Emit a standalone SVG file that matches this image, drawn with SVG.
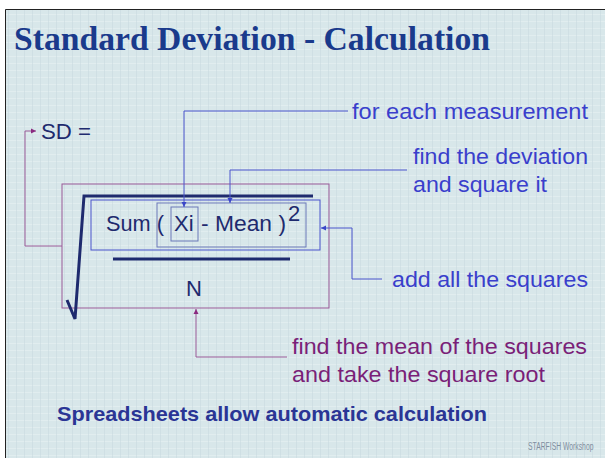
<svg xmlns="http://www.w3.org/2000/svg" width="605" height="458" viewBox="0 0 605 458">
<style>
.lbl{font-family:"Liberation Sans",Arial,sans-serif;font-size:22.5px;fill:#3a3fcc}
.lblp{font-family:"Liberation Sans",Arial,sans-serif;font-size:22.5px;fill:#7a1f78}
.frm{font-family:"Liberation Sans",Arial,sans-serif;font-size:22px;fill:#1e2a6e}
.bl{fill:none;stroke:#4a55cc;stroke-width:1}
.pu{fill:none;stroke:#9a5a98;stroke-width:1}
.gr{fill:none;stroke:#6a78b8;stroke-width:1}
</style>
<defs>
<pattern id="tex" width="8" height="7" patternUnits="userSpaceOnUse">
<rect width="8" height="7" fill="#d8e7ea"/>
<rect x="0" y="0" width="8" height="1" fill="#e6f0f2" opacity="0.7"/>
<rect x="0" y="0" width="1" height="7" fill="#c9dadf" opacity="0.6"/>
</pattern>
<marker id="ab" markerWidth="6" markerHeight="6" refX="5" refY="3" orient="auto" markerUnits="userSpaceOnUse">
<path d="M0,0.5 L5,3 L0,5.5 Z" fill="#3a46c8"/>
</marker>
<marker id="ap" markerWidth="6" markerHeight="6" refX="5" refY="3" orient="auto" markerUnits="userSpaceOnUse">
<path d="M0,0.5 L5,3 L0,5.5 Z" fill="#8a2a80"/>
</marker>
</defs>
<rect width="605" height="458" fill="#ffffff"/>
<rect x="5" y="9" width="600" height="449" fill="url(#tex)"/>
<path d="M5.5,458 V9.5 H605" fill="none" stroke="#222" stroke-width="1"/>

<g id="title">
<text x="14" y="50" font-family="'Liberation Serif','Times New Roman',serif" font-weight="bold" font-size="34" fill="#1a3a8c" textLength="476" lengthAdjust="spacingAndGlyphs">Standard Deviation - Calculation</text>
</g>

<g id="sd">
<text class="frm" x="41" y="139" textLength="50" lengthAdjust="spacingAndGlyphs">SD =</text>
</g>

<g id="formula">
<rect class="pu" x="62" y="184" width="267" height="124"/>
<rect class="bl" x="91" y="200" width="229" height="50"/>
<rect class="gr" x="157" y="203" width="149" height="44"/>
<rect class="gr" x="171" y="207" width="27" height="34"/>
<polyline points="67,300 75,319 84,196 313,196" fill="none" stroke="#1e2a6e" stroke-width="3" stroke-linejoin="miter"/>
<line x1="113" y1="259" x2="290" y2="259" stroke="#1e2a6e" stroke-width="3"/>
<text class="frm" x="106" y="231" textLength="58" lengthAdjust="spacingAndGlyphs">Sum (</text>
<text class="frm" x="174" y="231">Xi</text>
<text class="frm" x="201" y="231" textLength="85" lengthAdjust="spacingAndGlyphs">- Mean )</text>
<text class="frm" x="288" y="221" font-size="13">2</text>
<text class="frm" x="186" y="296">N</text>
</g>

<g id="label-measurement">
<text class="lbl" x="352" y="119" textLength="236" lengthAdjust="spacingAndGlyphs">for each measurement</text>
</g>
<g id="label-deviation">
<text class="lbl" x="413" y="164" textLength="175" lengthAdjust="spacingAndGlyphs">find the deviation</text>
<text class="lbl" x="413" y="192" textLength="134" lengthAdjust="spacingAndGlyphs">and square it</text>
</g>
<g id="label-add">
<text class="lbl" x="392" y="287" textLength="196" lengthAdjust="spacingAndGlyphs">add all the squares</text>
</g>
<g id="label-mean">
<text class="lblp" x="292" y="354" textLength="295" lengthAdjust="spacingAndGlyphs">find the mean of the squares</text>
<text class="lblp" x="292" y="382" textLength="253" lengthAdjust="spacingAndGlyphs">and take the square root</text>
</g>

<g id="connectors">
<path class="bl" d="M348,111 H184 V207" marker-end="url(#ab)"/>
<path class="bl" d="M407,170 H230 V203" marker-end="url(#ab)"/>
<path class="bl" d="M382,279 H352 V228 H321" marker-end="url(#ab)"/>
<path class="pu" d="M287,357 H196 V309" marker-end="url(#ap)"/>
<path class="pu" d="M62,246 H25 V131 H36" marker-end="url(#ap)"/>
</g>

<g id="footer">
<text transform="translate(528,450) scale(0.68,1)" font-family="'Liberation Sans',Arial,sans-serif" font-size="10" fill="#7f8ea0">STARFISH Workshop</text>
<text x="57" y="421" font-family="'Liberation Sans',Arial,sans-serif" font-weight="bold" font-size="21" fill="#2a3595" textLength="430" lengthAdjust="spacingAndGlyphs">Spreadsheets allow automatic calculation</text>
</g>
</svg>
